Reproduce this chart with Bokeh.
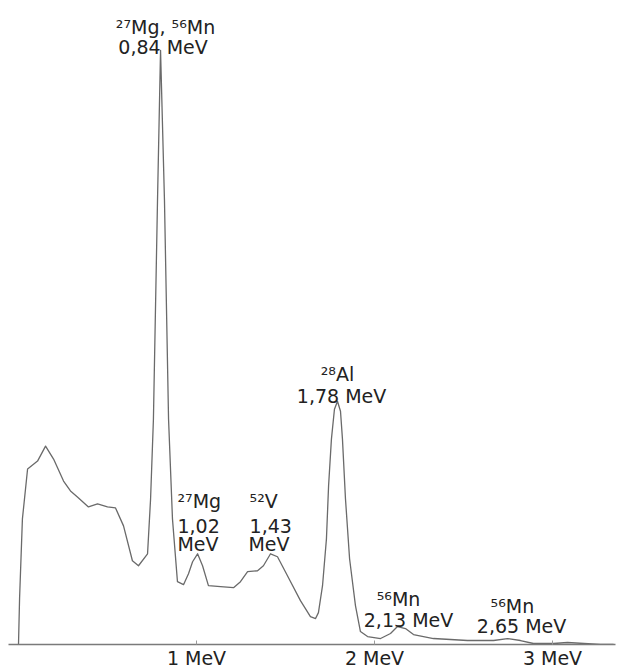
from bokeh.plotting import figure
from bokeh.models import ColumnDataSource, FixedTicker, Range1d
from bokeh.core.properties import value
from bokeh.embed import file_html
from bokeh.resources import INLINE

# Gamma spectrum: energy (MeV) and relative count rate
energy = [0.000, 0.006, 0.022, 0.051, 0.079, 0.107, 0.152, 0.197, 0.253, 0.292,
          0.331, 0.393, 0.444, 0.500, 0.545, 0.590, 0.640, 0.674, 0.725, 0.742,
          0.758, 0.781, 0.798, 0.820, 0.843, 0.865, 0.893, 0.927, 0.955, 0.978,
          1.006, 1.034, 1.067, 1.135, 1.208, 1.247, 1.287, 1.343, 1.376, 1.416,
          1.455, 1.511, 1.584, 1.640, 1.669, 1.685, 1.708, 1.730, 1.742, 1.758,
          1.775, 1.792, 1.809, 1.820, 1.837, 1.860, 1.893, 1.921, 1.961, 2.034,
          2.090, 2.129, 2.174, 2.219, 2.331, 2.522, 2.669, 2.747, 2.820, 2.893,
          3.006, 3.084, 3.270, 3.343]
counts = [0, 46, 126, 176, 180, 184, 199, 186, 164, 154,
          148, 138, 141, 138, 137, 119, 84, 79, 91, 146,
          226, 446, 596, 446, 226, 126, 63, 60, 71, 83,
          91, 79, 59, 58, 57, 63, 73, 74, 79, 91,
          88, 69, 44, 28, 26, 32, 59, 106, 159, 206,
          236, 244, 234, 206, 146, 86, 39, 13, 8, 6,
          11, 18, 16, 10, 6, 4, 4, 6, 4, 1,
          1, 2, 0, 0]

# Axis ticks
tick_values = [1, 2, 3]
tick_labels = ["1 MeV", "2 MeV", "3 MeV"]

# Peak annotations (one entry per text line)
peak_text = ["²⁷Mg, ⁵⁶Mn", "0,84 MeV",
             "²⁷Mg", "1,02", "MeV",
             "⁵²V", "1,43", "MeV",
             "²⁸Al", "1,78 MeV",
             "⁵⁶Mn", "2,13 MeV",
             "⁵⁶Mn", "2,65 MeV"]

# Placement of each annotation line (x in MeV, baseline in counts)
text_x = [0.826, 0.812,
          0.893, 0.893, 0.893,
          1.298, 1.298, 1.292,
          1.792, 1.815,
          2.135, 2.191,
          2.775, 2.826]
text_y = [619, 599,
          144, 119, 101,
          144, 119, 101,
          271, 249,
          46, 25,
          39, 19]
text_align = ["center", "center",
              "left", "left", "left",
              "left", "left", "left",
              "center", "center",
              "center", "center",
              "center", "center"]

PX_PER_MEV = 178.0
W, H = 619, 671
FRAME_H = 646

p = figure(width=W, height=H, output_backend="svg", toolbar_location=None,
           x_range=Range1d(-18 / PX_PER_MEV, (W - 18) / PX_PER_MEV),
           y_range=Range1d(0, FRAME_H),
           min_border_left=0, min_border_right=0, min_border_top=0,
           min_border_bottom=H - FRAME_H)
p.outline_line_color = None
p.background_fill_color = "white"
p.border_fill_color = "white"
p.grid.visible = False
p.yaxis.visible = False

ax = p.xaxis[0]
ax.ticker = FixedTicker(ticks=tick_values)
ax.major_label_overrides = {v: t for v, t in zip(tick_values, tick_labels)}
ax.bounds = (-10 / PX_PER_MEV, 597 / PX_PER_MEV)
ax.axis_line_color = "#7a7a7a"
ax.axis_line_width = 1.5
ax.major_tick_in = 4
ax.major_tick_out = 0
ax.major_tick_line_color = "#9a9a9a"
ax.minor_tick_line_color = None
ax.major_label_standoff = 2
ax.major_label_text_font = "DejaVu Sans"
ax.major_label_text_font_size = "19px"
ax.major_label_text_color = "#222222"

p.line(energy, counts, line_color="#6a6a6a", line_width=1.3, line_join="round")

src = ColumnDataSource(dict(x=text_x, y=text_y, t=peak_text, a=text_align))
p.text(x="x", y="y", text="t", text_align="a", text_baseline="alphabetic",
       source=src, text_font=value("DejaVu Sans"), text_font_size="19px",
       text_color="#222222")

open("out.html", "w").write(file_html(p, INLINE))
